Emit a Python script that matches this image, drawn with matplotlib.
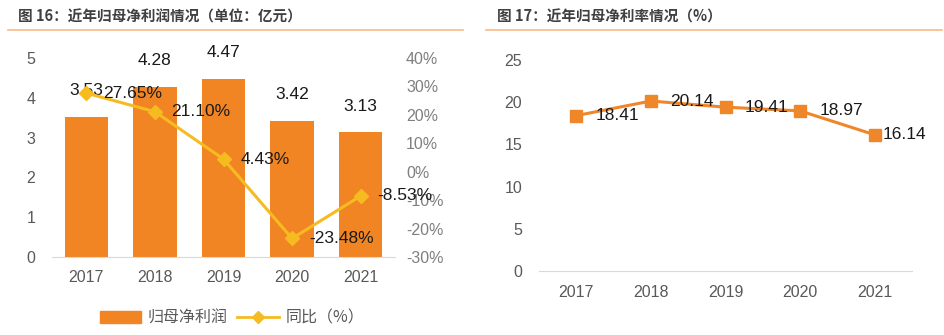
import numpy as np
import matplotlib
matplotlib.use("Agg")
import matplotlib.pyplot as plt
from matplotlib.lines import Line2D
from matplotlib.patches import Patch

plt.rcParams['font.family'] = ['Liberation Sans', 'Noto Sans CJK SC', 'DejaVu Sans']

years = ["2017", "2018", "2019", "2020", "2021"]
profit = [3.53, 4.28, 4.47, 3.42, 3.13]          # 归母净利润（亿元）
yoy = [27.65, 21.10, 4.43, -23.48, -8.53]         # 同比（%）
margin = [18.41, 20.14, 19.41, 18.97, 16.14]      # 归母净利率（%）

bar_color = "#F18423"
yoy_color = "#F7BB22"
margin_color = "#F0862A"
tick_gray = "#595959"
label_black = "#1A1A1A"
cjk = ['Noto Sans CJK SC', 'DejaVu Sans']

fig = plt.figure(figsize=(9.44, 3.35), dpi=100)

# titles and orange rules
fig.text(18 / 944, 1 - 17 / 335, "图 16：近年归母净利润情况（单位：亿元）", family=cjk,
         fontsize=10.5, fontweight="bold", color="#404040", va="center")
fig.text(497 / 944, 1 - 17 / 335, "图 17：近年归母净利率情况（%）", family=cjk,
         fontsize=10.5, fontweight="bold", color="#404040", va="center")
fig.add_artist(Line2D([8 / 944, 463 / 944], [1 - 30 / 335] * 2, color="#F9B98A", lw=1.2))
fig.add_artist(Line2D([486 / 944, 942 / 944], [1 - 30 / 335] * 2, color="#F9B98A", lw=1.2))

# left panel: bars + yoy line
x = np.arange(len(years))
ax1 = fig.add_axes([52 / 944, 78 / 335, 343 / 944, 199 / 335])
ax1.bar(x, profit, width=0.63, color=bar_color, zorder=2)
ax1.set_xlim(-0.5, len(years) - 0.5)
ax1.set_ylim(0, 5)
ax1.set_yticks(range(0, 6))
ax1.set_xticks(x)
ax1.set_xticklabels(years)
for s in ["top", "right", "left"]:
    ax1.spines[s].set_visible(False)
ax1.spines["bottom"].set_color("#D9D9D9")
ax1.tick_params(length=0, labelsize=11.5, colors=tick_gray)
ax1.tick_params(axis="y", pad=12)
ax1.tick_params(axis="x", pad=9)
for xi, v in zip(x, profit):
    ax1.annotate(f"{v:.2f}", (xi, v), xytext=(0, 19), textcoords="offset points",
                 ha="center", va="center", fontsize=12.5, color=label_black)

ax2 = ax1.twinx()
ax2.plot(x, yoy, color=yoy_color, lw=2.2, marker="D", markersize=7, zorder=3)
ax2.set_ylim(-30, 40)
ax2.set_yticks(range(-30, 41, 10))
ax2.set_yticklabels([f"{t}%" for t in range(-30, 41, 10)])
for s in ["top", "right", "left", "bottom"]:
    ax2.spines[s].set_visible(False)
ax2.tick_params(length=0, labelsize=11.5, colors="#7F7F7F", pad=8)
for xi, v in zip(x, yoy):
    ax2.annotate(f"{v:.2f}%", (xi, v), xytext=(12, 0), textcoords="offset points",
                 ha="left", va="center", fontsize=12.5, color=label_black)

handles = [Patch(color=bar_color),
           Line2D([], [], color=yoy_color, lw=2, marker="D", markersize=6)]
fig.legend(handles, ["归母净利润", "同比（%）"], loc="center", bbox_to_anchor=(232 / 944, 1 - 318 / 335),
           ncol=2, frameon=False, prop={"family": cjk, "size": 11.5}, labelcolor=tick_gray,
           handlelength=2.6, columnspacing=0.6, handletextpad=0.4)

# right panel: margin line
ax3 = fig.add_axes([539 / 944, 64 / 335, 373 / 944, 211 / 335])
ax3.plot(x, margin, color=margin_color, lw=2.2, marker="s", markersize=9)
ax3.set_xlim(-0.5, len(years) - 0.5)
ax3.set_ylim(0, 25)
ax3.set_yticks(range(0, 26, 5))
ax3.set_xticks(x)
ax3.set_xticklabels(years)
for s in ["top", "right", "left"]:
    ax3.spines[s].set_visible(False)
ax3.spines["bottom"].set_color("#D9D9D9")
ax3.tick_params(length=0, labelsize=11.5, colors=tick_gray)
ax3.tick_params(axis="y", pad=12)
ax3.tick_params(axis="x", pad=10)
offsets = [14, 14, 14, 14, 6]
for xi, v, off in zip(x, margin, offsets):
    ax3.annotate(f"{v:.2f}", (xi, v), xytext=(off, 0), textcoords="offset points",
                 ha="left", va="center", fontsize=12.5, color=label_black)

fig.savefig("out.png", dpi=100)
